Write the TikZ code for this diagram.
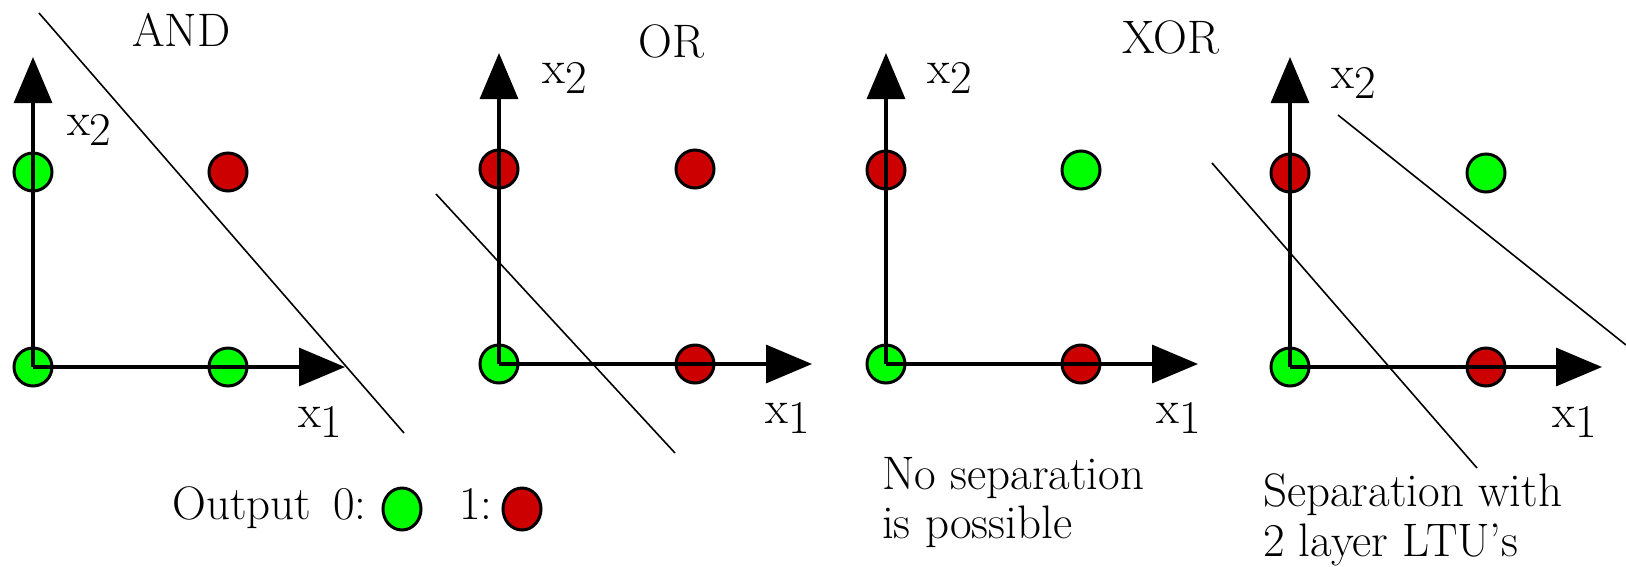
\documentclass[tikz,border=0pt]{standalone}
\usetikzlibrary{arrows.meta,shapes.geometric}
\definecolor{ongreen}{RGB}{0,255,0}
\definecolor{onred}{RGB}{204,0,0}
\newcommand{\lowdig}[1]{\raisebox{-10pt}{#1}}
\begin{document}
\begin{tikzpicture}[x=1pt,y=-1pt,
  dot/.style={circle,draw=black,line width=3pt,minimum size=38pt,inner sep=0pt},
  zero/.style={dot,fill=ongreen},
  one/.style={dot,fill=onred},
  legdot/.style={ellipse,draw=black,line width=3pt,minimum width=38pt,minimum height=42pt,inner sep=0pt},
  axis/.style={line width=3.3pt,-{Triangle[length=46pt,width=38pt]}},
  sepline/.style={line width=1.6pt},
  lbl/.style={anchor=base west,inner sep=0pt,font=\rmfamily\fontsize{47}{47}\selectfont}]
\useasboundingbox (0,0) rectangle (1626,566);

% ---------- Panel 1: AND
\node[zero] (a00) at (33,367) {};
\node[zero] (a10) at (228,367) {};
\node[zero] (a01) at (33,172) {};
\node[one]  (a11) at (228,172) {};
\coordinate (ay) at (33,57);
\coordinate (ax) at (345,367);
\draw[axis] (a00.center) -- (ay);
\draw[axis] (a00.center) -- (ax);
\node[lbl] (ax2) at (67,135) {x\lowdig{2}};
\node[lbl] (ax1) at (298,427) {x\lowdig{1}};
\node[lbl] (atitle) at (132,46) {AND};
\coordinate (as1) at (39,13);
\coordinate (as2) at (404,433);
\draw[sepline] (as1) -- (as2);

% ---------- Panel 2: OR
\node[zero] (b00) at (499,364) {};
\node[one]  (b10) at (695,364) {};
\node[one]  (b01) at (499,169) {};
\node[one]  (b11) at (695,169) {};
\coordinate (by) at (499,53);
\coordinate (bx) at (812,364);
\draw[axis] (b00.center) -- (by);
\draw[axis] (b00.center) -- (bx);
\node[lbl] (bx2) at (542,83) {x\lowdig{2}};
\node[lbl] (bx1) at (765,423) {x\lowdig{1}};
\node[lbl] (btitle) at (638,57) {OR};
\coordinate (bs1) at (436,194);
\coordinate (bs2) at (675,453);
\draw[sepline] (bs1) -- (bs2);

% ---------- Panel 3: XOR
\node[zero] (c00) at (886,364) {};
\node[one]  (c10) at (1081,364) {};
\node[one]  (c01) at (886,170) {};
\node[zero] (c11) at (1081,170) {};
\coordinate (cy) at (886,53);
\coordinate (cx) at (1198,364);
\draw[axis] (c00.center) -- (cy);
\draw[axis] (c00.center) -- (cx);
\node[lbl] (cx2) at (927,83) {x\lowdig{2}};
\node[lbl] (cx1) at (1156,423) {x\lowdig{1}};
\node[lbl] (ctitle) at (1122,53) {XOR};
\node[lbl] (cnote1) at (882,489) {No separation};
\node[lbl] (cnote2) at (882,538) {is possible};

% ---------- Panel 4: XOR with two lines
\node[zero] (d00) at (1290,367) {};
\node[one]  (d10) at (1486,367) {};
\node[one]  (d01) at (1290,173) {};
\node[zero] (d11) at (1486,173) {};
\coordinate (dy) at (1290,57);
\coordinate (dx) at (1602,367);
\draw[axis] (d00.center) -- (dy);
\draw[axis] (d00.center) -- (dx);
\node[lbl] (dx2) at (1331,88) {x\lowdig{2}};
\node[lbl] (dx1) at (1552,427) {x\lowdig{1}};
\coordinate (ds1) at (1212,163);
\coordinate (ds2) at (1477,468);
\draw[sepline] (ds1) -- (ds2);
\coordinate (dt1) at (1338,115);
\coordinate (dt2) at (1626,345);
\draw[sepline] (dt1) -- (dt2);
\node[lbl] (dnote1) at (1263,506) {Separation with};
\node[lbl] (dnote2) at (1263,556) {2 layer LTU's};

% ---------- Legend
\node[lbl] (lout) at (172,519) {Output};
\node[lbl] (lzero) at (333,519) {0:};
\node[legdot,fill=ongreen] (lg) at (402,509) {};
\node[lbl] (lone) at (459,519) {1:};
\node[legdot,fill=onred] (lr) at (522,509) {};
\end{tikzpicture}
\end{document}
